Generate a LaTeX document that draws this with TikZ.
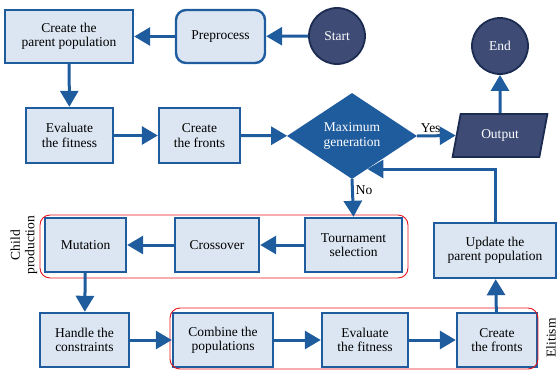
\documentclass[tikz,border=0pt]{standalone}
\usepackage{fontspec}
\setmainfont{Liberation Serif}
\usetikzlibrary{shapes.geometric,arrows.meta}
\definecolor{boxfill}{HTML}{DCE6F2}
\definecolor{boxline}{HTML}{1F5C9E}
\definecolor{navy}{HTML}{3D4B75}
\definecolor{navyline}{HTML}{1C2B50}
\definecolor{redline}{HTML}{E8141B}
\begin{document}
\begin{tikzpicture}[x=1pt,y=1pt,
  txt/.style={font=\fontsize{13.5}{14.5}\selectfont},
  box/.style={txt, draw=boxline, fill=boxfill, line width=2.4pt, align=center, inner sep=2pt},
  term/.style={txt, circle, draw=navyline, fill=navy, text=white, line width=1.8pt, minimum size=56pt, inner sep=0pt},
  arr/.style={draw=boxline, line width=3pt, -{Triangle[length=16pt,width=18pt]}},
  group/.style={draw=redline, line width=0.9pt, rounded corners=10pt}]
\useasboundingbox (0,0) rectangle (558,-370);
% nodes
\node[box, minimum width=128pt, minimum height=53pt] (parent) at (69,-36.5) {Create the\\parent population};
\node[box, rounded corners=10pt, minimum width=89pt, minimum height=53pt] (prep) at (220.5,-36.5) {Preprocess};
\node[term] (start) at (337,-36) {Start};
\node[term] (end) at (500,-46) {End};
\node[box, minimum width=87pt, minimum height=55pt] (evalA) at (69.5,-135.5) {Evaluate\\the fitness};
\node[box, minimum width=81pt, minimum height=55pt] (frontsA) at (199.5,-135.5) {Create\\the fronts};
\node[txt, diamond, fill=boxline, text=white, align=center, aspect=1.5, minimum width=130pt, minimum height=86pt, inner sep=0pt] (diam) at (352,-136) {Maximum\\generation};
\node[txt, trapezium, trapezium left angle=72, trapezium right angle=108, trapezium stretches=true, draw=navyline, fill=navy, text=white, line width=1.8pt, minimum width=95pt, minimum height=43pt, inner sep=0pt] (output) at (500,-135.5) {Output};
\node[box, minimum width=97pt, minimum height=54pt] (tour) at (353.5,-245) {Tournament\\selection};
\node[box, minimum width=84pt, minimum height=54pt] (cross) at (217,-245) {Crossover};
\node[box, minimum width=81pt, minimum height=54pt] (mut) at (85.5,-245) {Mutation};
\node[box, minimum width=122pt, minimum height=55pt] (update) at (495,-250.5) {Update the\\parent population};
\node[box, minimum width=89pt, minimum height=54pt] (handle) at (84.5,-340) {Handle the\\constraints};
\node[box, minimum width=100pt, minimum height=54pt] (combine) at (223,-340) {Combine the\\populations};
\node[box, minimum width=86pt, minimum height=54pt] (evalB) at (365,-340) {Evaluate\\the fitness};
\node[box, minimum width=80pt, minimum height=54pt] (frontsB) at (497,-340) {Create\\the fronts};
% groups
\draw[group] (40,-215) rectangle (408,-278);
\draw[group] (170,-308) rectangle (538,-369);
\node[txt, rotate=90, align=center] (childlbl) at (24,-245) {Child\\production};
\node[txt, rotate=90] (elitlbl) at (551,-338) {Elitism};
% connectors
\draw[arr] (start) -- (prep);
\draw[arr] (prep) -- (parent);
\draw[arr] (parent) -- (evalA);
\draw[arr] (evalA) -- (frontsA);
\draw[arr] (frontsA) -- (diam);
\draw[arr] (diam.east) -- node[txt, above, pos=0.35, inner sep=2pt] {Yes} (output.west);
\draw[arr] (output) -- (end);
\draw[arr] (diam.south) -- node[txt, right, pos=0.3, inner sep=2pt] {No} (tour.north);
\draw[arr] (tour) -- (cross);
\draw[arr] (cross) -- (mut);
\draw[arr] (mut) -- (handle);
\draw[arr] (handle) -- (combine);
\draw[arr] (combine) -- (evalB);
\draw[arr] (evalB) -- (frontsB);
\draw[arr] (frontsB) -- (update);
\draw[arr] (update.north) |- (diam.-65);
\end{tikzpicture}
\end{document}
